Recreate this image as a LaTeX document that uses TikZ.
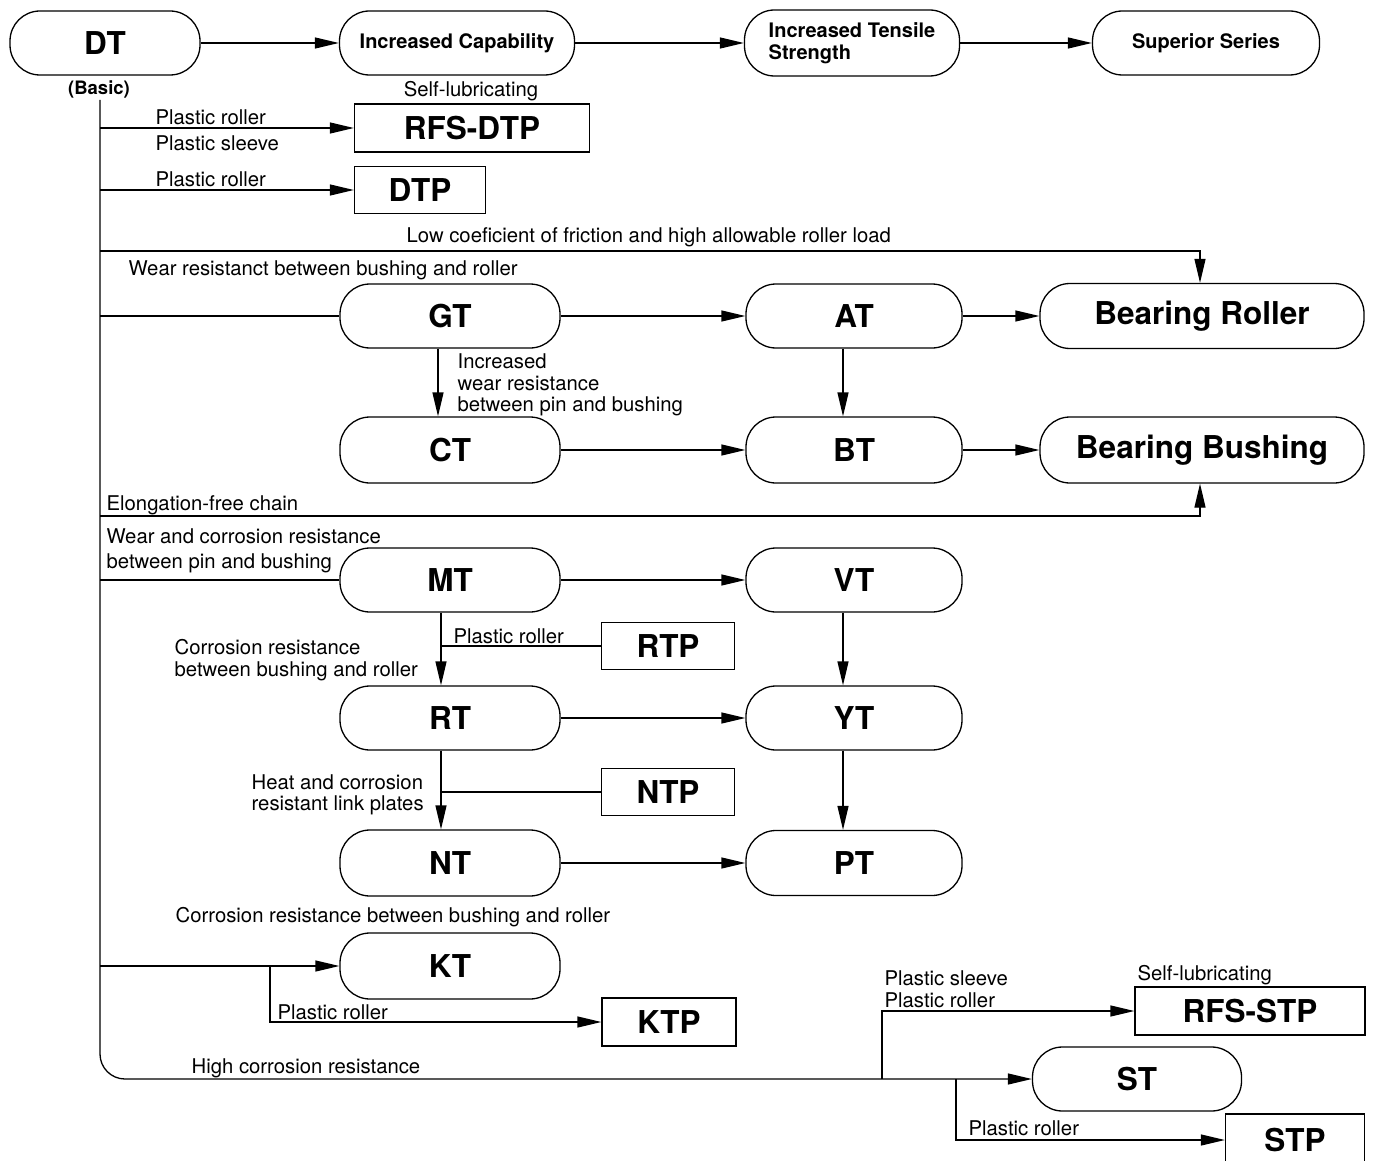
\documentclass[tikz,border=0pt]{standalone}
\usepackage{fontspec}
\setmainfont{TeX Gyre Heros}
\usetikzlibrary{arrows.meta}
\begin{document}
\begin{tikzpicture}[x=1pt,y=-1pt, line width=1.3pt,
 stad/.style={draw, rounded corners=30pt, inner sep=0pt, font=\bfseries\fontsize{31.5}{36}\selectfont},
 stadm/.style={stad, font=\bfseries\fontsize{20}{22}\selectfont},
 pbox/.style={draw, inner sep=0pt, font=\bfseries\fontsize{31.5}{36}\selectfont},
 lab/.style={inner sep=0pt, font=\fontsize{20.3}{21.5}\selectfont, align=left},
 arr/.style={-{Triangle[length=24pt,width=11pt]}},
 sz/.style 2 args={minimum width=#1pt, minimum height=#2pt}
]
\path[use as bounding box, fill=white] (0,0) rectangle (1373,1161);

% top row
\node[stad, sz={190}{64}] (DT) at (105,43) {DT};
\node[inner sep=0pt, font=\bfseries\fontsize{18.5}{20}\selectfont] (basic) at (99,89) {(Basic)};
\node[stadm, sz={235}{64}] (IC) at (457,43) {Increased Capability};
\node[stadm, sz={215}{66}, align=left] (ITS) at (852,43) {Increased Tensile\\Strength};
\node[stadm, sz={227}{64}] (SS) at (1206,43) {Superior Series};
\draw[arr] (DT.east) -- (IC.west);
\draw[arr] (IC.east) -- (ITS.west);
\draw[arr] (ITS.east) -- (SS.west);

% product boxes
\node[pbox, sz={235}{48}] (RFSDTP) at (472,128) {RFS-DTP};
\node[pbox, sz={131}{47}] (DTP) at (420,190) {DTP};
\node[pbox, sz={133}{47}] (RTP) at (668,646) {RTP};
\node[pbox, sz={133}{47}] (NTP) at (668,792) {NTP};
\node[pbox, sz={134}{48}] (KTP) at (669,1022) {KTP};
\node[pbox, sz={230}{48}] (RFSSTP) at (1250,1011) {RFS-STP};
\node[pbox, sz={139}{52}] (STP) at (1295,1140) {STP};

% stadium nodes
\node[stad, sz={220}{64}] (GT) at (450,316) {GT};
\node[stad, sz={216}{64}] (AT) at (854,316) {AT};
\node[stad, sz={324}{65}] (BR) at (1202,316) {Bearing Roller};
\node[stad, sz={220}{66}] (CT) at (450,450) {CT};
\node[stad, sz={216}{66}] (BT) at (854,450) {BT};
\node[stad, sz={324}{66}] (BB) at (1202,450) {Bearing Bushing};
\node[stad, sz={220}{64}] (MT) at (450,580) {MT};
\node[stad, sz={216}{64}] (VT) at (854,580) {VT};
\node[stad, sz={220}{64}] (RT) at (450,718) {RT};
\node[stad, sz={216}{64}] (YT) at (854,718) {YT};
\node[stad, sz={220}{66}] (NT) at (450,863) {NT};
\node[stad, sz={216}{65}] (PT) at (854,863) {PT};
\node[stad, sz={220}{66}] (KT) at (450,966) {KT};
\node[stad, sz={209}{64}] (ST) at (1137,1079) {ST};

% trunk
\coordinate (t0) at (100,100);
\draw[arr, rounded corners=25pt] (t0) |- (ST.west);

\coordinate (b1) at (100,128);
\coordinate (b2) at (100,190);
\coordinate (b3) at (100,251);
\coordinate (b4) at (100,316);
\coordinate (b5) at (100,516);
\coordinate (b6) at (100,580);
\coordinate (b8) at (100,966);
\coordinate (j1) at (441,646);
\coordinate (j2) at (441,792);
\coordinate (k1) at (270,966);
\coordinate (s1) at (882,1079);
\coordinate (s2) at (956,1079);

\draw[arr] (b1) -- (RFSDTP.west);
\draw[arr] (b2) -- (DTP.west);
\draw[arr] (b3) -| ([xshift=-2pt]BR.north);
\draw (b4) -- (GT.west);
\draw[arr] (GT.east) -- (AT.west);
\draw[arr] (AT.east) -- (BR.west);
\draw[arr] ([xshift=-12pt]GT.south) -- ([xshift=-12pt]CT.north);
\draw[arr] ([xshift=-11pt]AT.south) -- ([xshift=-11pt]BT.north);
\draw[arr] (CT.east) -- (BT.west);
\draw[arr] (BT.east) -- (BB.west);
\draw[arr] (b5) -| ([xshift=-2pt]BB.south);
\draw (b6) -- (MT.west);
\draw[arr] (MT.east) -- (VT.west);
\draw[arr] ([xshift=-9pt]MT.south) -- ([xshift=-9pt]RT.north);
\draw (RTP.west) -- (j1);
\draw[arr] ([xshift=-11pt]VT.south) -- ([xshift=-11pt]YT.north);
\draw[arr] (RT.east) -- (YT.west);
\draw[arr] ([xshift=-9pt]RT.south) -- ([xshift=-9pt]NT.north);
\draw (NTP.west) -- (j2);
\draw[arr] ([xshift=-11pt]YT.south) -- ([xshift=-11pt]PT.north);
\draw[arr] (NT.east) -- (PT.west);
\draw[arr] (b8) -- (KT.west);
\draw[arr] (k1) |- (KTP.west);
\draw[arr] (s1) |- (RFSSTP.west);
\draw[arr] (s2) |- (STP.west);

% labels
\node[lab, anchor=west] (l1) at (155,117) {Plastic roller};
\node[lab, anchor=west] (l2) at (155,143) {Plastic sleeve};
\node[lab] (l3) at (471,91) {Self-lubricating};
\node[lab, anchor=west] (l4) at (155,179) {Plastic roller};
\node[lab, anchor=west] (l5) at (406,237) {Low coeficient of friction and high allowable roller load};
\node[lab, anchor=west] (l6) at (128,270) {Wear resistanct between bushing and roller};
\node[lab, anchor=west] (l7) at (457,385) {Increased\\wear resistance\\between pin and bushing};
\node[lab, anchor=west] (l8) at (106,505) {Elongation-free chain};
\node[lab, anchor=west] (l9) at (106,551) {Wear and corrosion resistance\\[4pt]between pin and bushing};
\node[lab, anchor=west] (l10) at (453,636) {Plastic roller};
\node[lab, anchor=west] (l11) at (174,660) {Corrosion resistance\\between bushing and roller};
\node[lab, anchor=west] (l12) at (251,795) {Heat and corrosion\\resistant link plates};
\node[lab, anchor=west] (l13) at (175,917) {Corrosion resistance between bushing and roller};
\node[lab, anchor=west] (l14) at (277,1012) {Plastic roller};
\node[lab, anchor=west] (l15) at (191,1068) {High corrosion resistance};
\node[lab, anchor=west] (l16) at (884,989) {Plastic sleeve\\Plastic roller};
\node[lab, anchor=west] (l17) at (1137,975) {Self-lubricating};
\node[lab, anchor=west] (l18) at (968,1128) {Plastic roller};
\end{tikzpicture}
\end{document}
